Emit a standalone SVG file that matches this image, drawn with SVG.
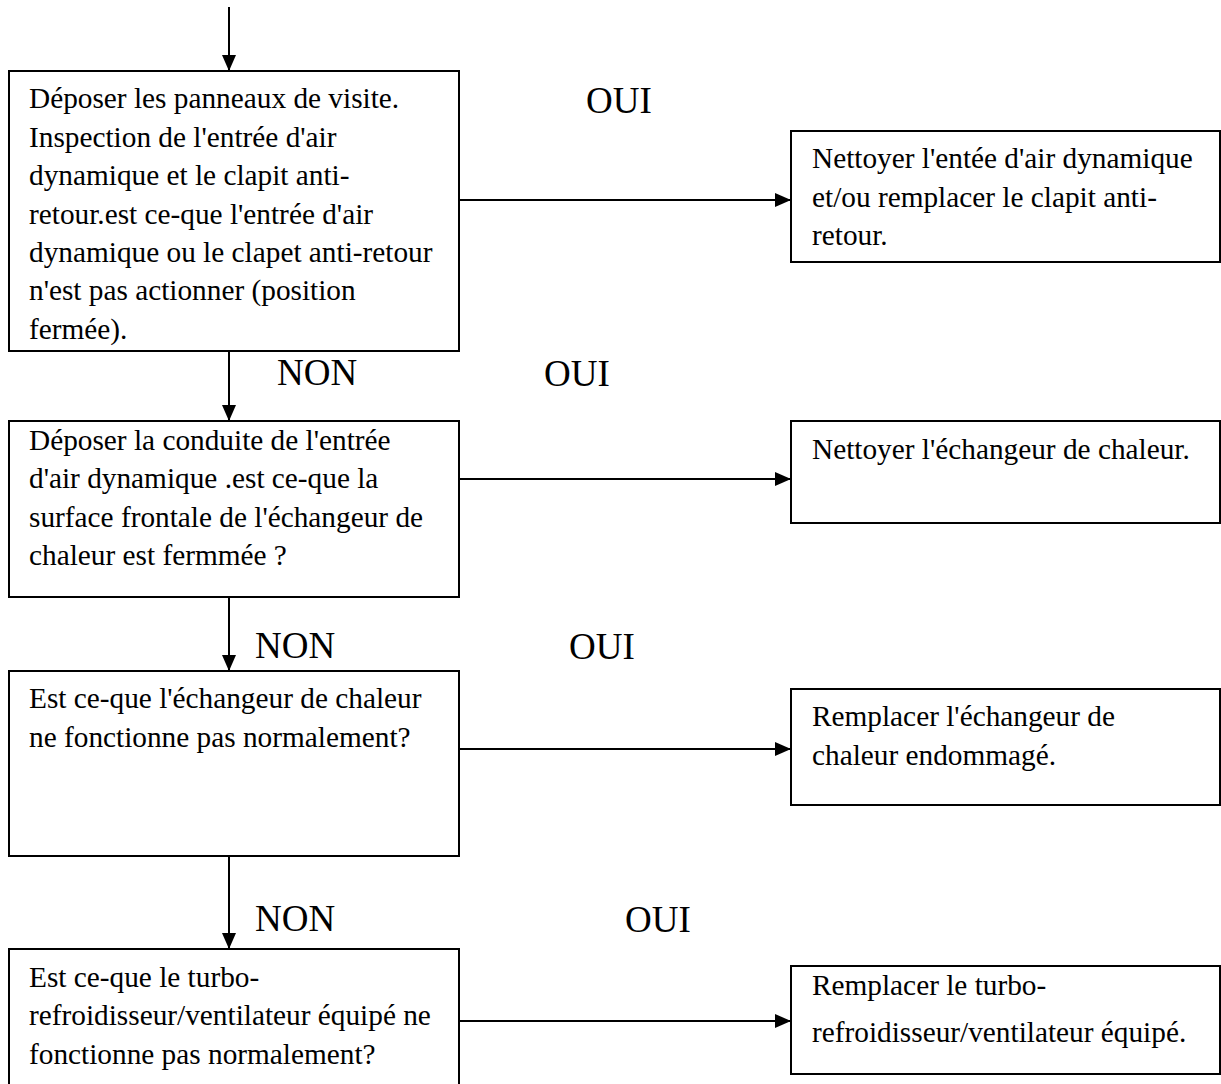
<svg xmlns="http://www.w3.org/2000/svg" width="1221" height="1084" viewBox="0 0 1221 1084" font-family="'Liberation Serif', 'Times New Roman', serif">
  <style>
    .box { fill: #fff; stroke: #000; stroke-width: 2; }
    .txt { font-family: 'Liberation Serif', 'Times New Roman', serif; font-size: 29.3px; fill: #000; }
    .lbl { font-family: 'Liberation Serif', 'Times New Roman', serif; font-size: 37px; fill: #000; }
    .edge { stroke: #000; stroke-width: 2; fill: none; marker-end: url(#arrow); }
  </style>
  <defs>
    <marker id="arrow" viewBox="0 0 16 14" refX="16" refY="7" markerWidth="16" markerHeight="14" markerUnits="userSpaceOnUse" orient="auto">
      <path d="M0,0 L16,7 L0,14 Z" fill="#000"/>
    </marker>
  </defs>
  <rect width="1221" height="1084" fill="#fff"/>

  <!-- connectors -->
  <g id="connectors">
    <line class="edge" x1="229" y1="7" x2="229" y2="71"/>
    <line class="edge" x1="459" y1="200" x2="791" y2="200"/>
    <line class="edge" x1="229" y1="351" x2="229" y2="421"/>
    <line class="edge" x1="459" y1="479" x2="791" y2="479"/>
    <line class="edge" x1="229" y1="597" x2="229" y2="671"/>
    <line class="edge" x1="459" y1="749" x2="791" y2="749"/>
    <line class="edge" x1="229" y1="856" x2="229" y2="949"/>
    <line class="edge" x1="459" y1="1021" x2="791" y2="1021"/>
  </g>

  <!-- branch labels -->
  <g id="labels">
    <text class="lbl" x="586" y="113">OUI</text>
    <text class="lbl" x="277" y="385">NON</text>
    <text class="lbl" x="544" y="386">OUI</text>
    <text class="lbl" x="255" y="658">NON</text>
    <text class="lbl" x="569" y="659">OUI</text>
    <text class="lbl" x="255" y="931">NON</text>
    <text class="lbl" x="625" y="932">OUI</text>
  </g>

  <g id="q1">
    <rect class="box" x="9" y="71" width="450" height="280"/>
    <text class="txt">
      <tspan x="29" y="108">Déposer les panneaux de visite.</tspan>
      <tspan x="29" y="146.5">Inspection de l'entrée d'air</tspan>
      <tspan x="29" y="185">dynamique et le clapit anti-</tspan>
      <tspan x="29" y="223.5">retour.est ce-que l'entrée d'air</tspan>
      <tspan x="29" y="262">dynamique ou le clapet anti-retour</tspan>
      <tspan x="29" y="300">n'est pas actionner (position</tspan>
      <tspan x="29" y="338.5">fermée).</tspan>
    </text>
  </g>

  <g id="a1">
    <rect class="box" x="791" y="131" width="429" height="131"/>
    <text class="txt">
      <tspan x="812" y="168">Nettoyer l'entée d'air dynamique</tspan>
      <tspan x="812" y="207">et/ou remplacer le clapit anti-</tspan>
      <tspan x="812" y="245">retour.</tspan>
    </text>
  </g>

  <g id="q2">
    <rect class="box" x="9" y="421" width="450" height="176"/>
    <text class="txt">
      <tspan x="29" y="450">Déposer la conduite de l'entrée</tspan>
      <tspan x="29" y="488">d'air dynamique .est ce-que la</tspan>
      <tspan x="29" y="526.5">surface frontale de l'échangeur de</tspan>
      <tspan x="29" y="565">chaleur est fermmée ?</tspan>
    </text>
  </g>

  <g id="a2">
    <rect class="box" x="791" y="421" width="429" height="102"/>
    <text class="txt" x="812" y="459">Nettoyer l'échangeur de chaleur.</text>
  </g>

  <g id="q3">
    <rect class="box" x="9" y="671" width="450" height="185"/>
    <text class="txt">
      <tspan x="29" y="708">Est ce-que l'échangeur de chaleur</tspan>
      <tspan x="29" y="746.5">ne fonctionne pas normalement?</tspan>
    </text>
  </g>

  <g id="a3">
    <rect class="box" x="791" y="689" width="429" height="116"/>
    <text class="txt">
      <tspan x="812" y="726">Remplacer l'échangeur de</tspan>
      <tspan x="812" y="764.5">chaleur endommagé.</tspan>
    </text>
  </g>

  <g id="q4">
    <rect class="box" x="9" y="949" width="450" height="145"/>
    <text class="txt">
      <tspan x="29" y="987">Est ce-que le turbo-</tspan>
      <tspan x="29" y="1025">refroidisseur/ventilateur équipé ne</tspan>
      <tspan x="29" y="1063.5">fonctionne pas normalement?</tspan>
    </text>
  </g>

  <g id="a4">
    <rect class="box" x="791" y="966" width="429" height="108"/>
    <text class="txt">
      <tspan x="812" y="995">Remplacer le turbo-</tspan>
      <tspan x="812" y="1042">refroidisseur/ventilateur équipé.</tspan>
    </text>
  </g>
</svg>
